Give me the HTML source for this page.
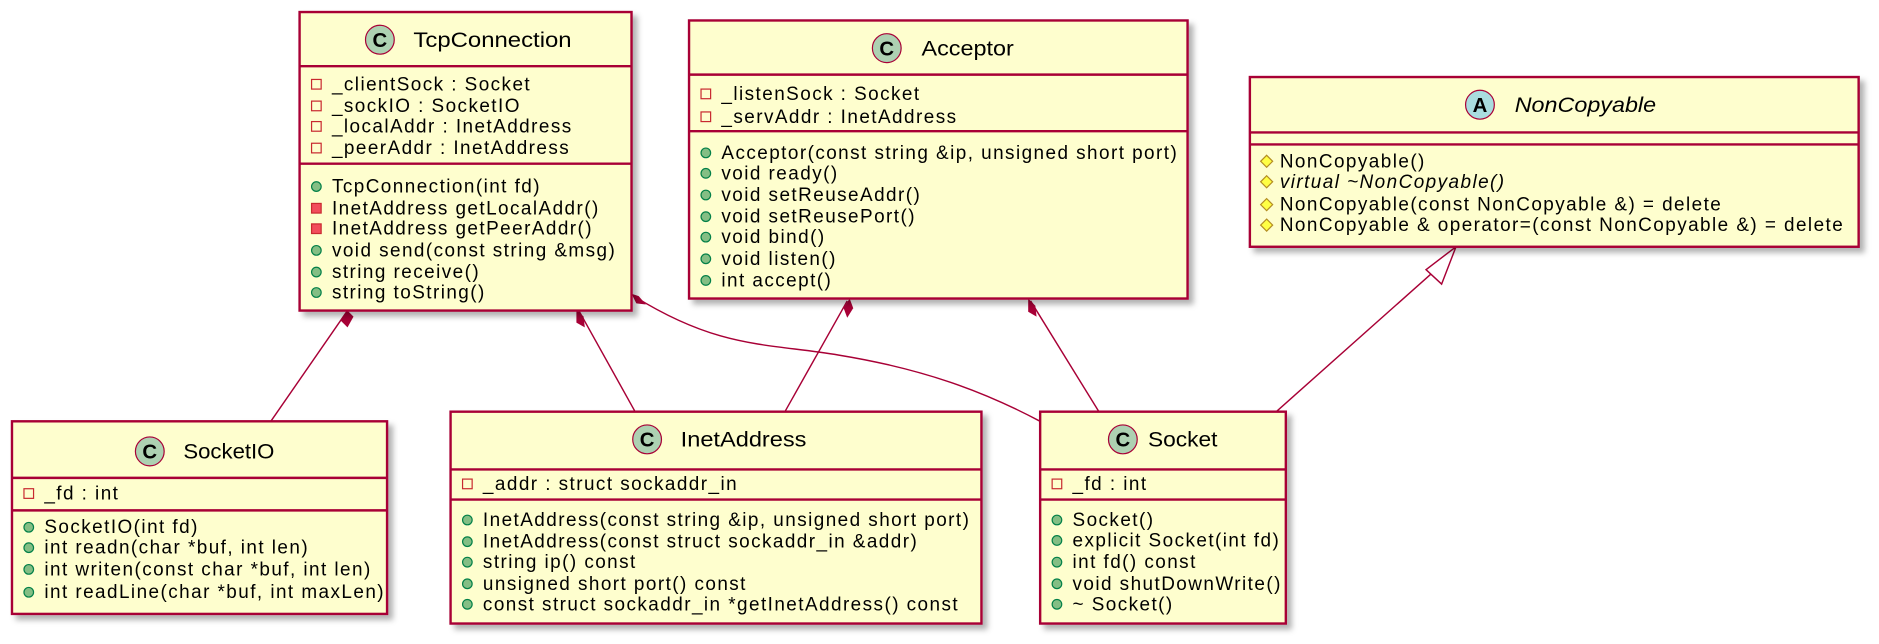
<!DOCTYPE html>
<html><head><meta charset="utf-8"><style>
html,body{margin:0;padding:0;background:#fff;}
svg{display:block;}
text{font-family:"Liberation Sans",sans-serif;font-size:15.8px;letter-spacing:1.2px;fill:#000;}
.t{font-size:18px;letter-spacing:0;}
.ic{font-size:17px;font-weight:bold;letter-spacing:0;}
.box{fill:#FEFECE;stroke:#A80036;stroke-width:2;filter:url(#sh);}
.sep{stroke:#A80036;stroke-width:2;}
.ln{stroke:#A80036;stroke-width:1.2;fill:none;}
</style></head><body>
<svg width="1879" height="644" viewBox="0 0 1568 535" preserveAspectRatio="none" xmlns="http://www.w3.org/2000/svg">
<defs>
<filter id="sh" x="-5%" y="-5%" width="115%" height="120%"><feDropShadow dx="4" dy="4" stdDeviation="2.5" flood-color="#000" flood-opacity="0.3"/></filter>
<g id="pf"><rect x="-4" y="-4" width="8" height="8" fill="none" stroke="#C82930" stroke-width="1"/></g>
<g id="pm"><rect x="-4" y="-4" width="8" height="8" fill="#F24D5C" stroke="#C82930" stroke-width="1"/></g>
<g id="pu"><circle r="4" fill="#84BE84" stroke="#038048" stroke-width="1"/></g>
<g id="pr"><polygon points="0,-5 5,0 0,5 -5,0" fill="#FFFF44" stroke="#B38D22" stroke-width="1"/></g>
</defs>

<!-- connectors -->
<line class="ln" x1="290" y1="258" x2="226" y2="350"/>
<polygon points="290,258 295,263 290,272 284,266" fill="#A80036"/>
<line class="ln" x1="483" y1="258" x2="530" y2="342"/>
<polygon points="481,257 487,263 488,272 481,268" fill="#A80036"/>
<path class="ln" d="M529,246 C600,290 640,285 700,295 C780,308 830,330 868,350"/>
<polygon points="527,244 533,246 539,253 531,252" fill="#A80036"/>
<line class="ln" x1="707" y1="250" x2="655" y2="342"/>
<polygon points="709,248 712,256 707,264 704,256" fill="#A80036"/>
<line class="ln" x1="860" y1="250" x2="917" y2="342"/>
<polygon points="858,248 864,254 865,263 858,259" fill="#A80036"/>
<line class="ln" x1="1205" y1="218" x2="1065" y2="342"/>
<polygon points="1215,205 1190,224 1203,236" fill="#fff" stroke="#A80036" stroke-width="1.2"/>

<!-- TcpConnection -->
<rect class="box" x="250" y="10" width="277" height="248"/>
<line class="sep" x1="250" y1="55" x2="527" y2="55"/>
<line class="sep" x1="250" y1="136" x2="527" y2="136"/>
<circle cx="317" cy="33" r="12" fill="#ADD1B2" stroke="#A80036"/>
<text class="ic" x="317" y="39" text-anchor="middle">C</text>
<text class="t" x="345" y="39" textLength="132" lengthAdjust="spacingAndGlyphs">TcpConnection</text>
<use href="#pf" x="264" y="70"/><text x="277" y="75">_clientSock : Socket</text>
<use href="#pf" x="264" y="88"/><text x="277" y="93">_sockIO : SocketIO</text>
<use href="#pf" x="264" y="105"/><text x="277" y="110">_localAddr : InetAddress</text>
<use href="#pf" x="264" y="123"/><text x="277" y="128">_peerAddr : InetAddress</text>
<use href="#pu" x="264" y="155"/><text x="277" y="160">TcpConnection(int fd)</text>
<use href="#pm" x="264" y="173"/><text x="277" y="178">InetAddress getLocalAddr()</text>
<use href="#pm" x="264" y="190"/><text x="277" y="195">InetAddress getPeerAddr()</text>
<use href="#pu" x="264" y="208"/><text x="277" y="213">void send(const string &amp;msg)</text>
<use href="#pu" x="264" y="226"/><text x="277" y="231">string receive()</text>
<use href="#pu" x="264" y="243"/><text x="277" y="248">string toString()</text>

<!-- Acceptor -->
<rect class="box" x="575" y="17" width="416" height="231"/>
<line class="sep" x1="575" y1="62" x2="991" y2="62"/>
<line class="sep" x1="575" y1="109" x2="991" y2="109"/>
<circle cx="740" cy="40" r="12" fill="#ADD1B2" stroke="#A80036"/>
<text class="ic" x="740" y="46" text-anchor="middle">C</text>
<text class="t" x="769" y="46" textLength="77" lengthAdjust="spacingAndGlyphs">Acceptor</text>
<use href="#pf" x="589" y="78"/><text x="602" y="83">_listenSock : Socket</text>
<use href="#pf" x="589" y="97"/><text x="602" y="102">_servAddr : InetAddress</text>
<use href="#pu" x="589" y="127"/><text x="602" y="132">Acceptor(const string &amp;ip, unsigned short port)</text>
<use href="#pu" x="589" y="144"/><text x="602" y="149">void ready()</text>
<use href="#pu" x="589" y="162"/><text x="602" y="167">void setReuseAddr()</text>
<use href="#pu" x="589" y="180"/><text x="602" y="185">void setReusePort()</text>
<use href="#pu" x="589" y="197"/><text x="602" y="202">void bind()</text>
<use href="#pu" x="589" y="215"/><text x="602" y="220">void listen()</text>
<use href="#pu" x="589" y="233"/><text x="602" y="238">int accept()</text>

<!-- NonCopyable -->
<rect class="box" x="1043" y="64" width="508" height="141"/>
<line class="sep" x1="1043" y1="110" x2="1551" y2="110"/>
<line class="sep" x1="1043" y1="120" x2="1551" y2="120"/>
<circle cx="1235" cy="87" r="12" fill="#A9DCDF" stroke="#A80036"/>
<text class="ic" x="1235" y="93" text-anchor="middle">A</text>
<text class="t" x="1264" y="93" style="font-style:italic" textLength="118" lengthAdjust="spacingAndGlyphs">NonCopyable</text>
<use href="#pr" x="1057" y="134"/><text x="1068" y="139">NonCopyable()</text>
<use href="#pr" x="1057" y="151"/><text x="1068" y="156" style="font-style:italic">virtual ~NonCopyable()</text>
<use href="#pr" x="1057" y="170"/><text x="1068" y="175">NonCopyable(const NonCopyable &amp;) = delete</text>
<use href="#pr" x="1057" y="187"/><text x="1068" y="192">NonCopyable &amp; operator=(const NonCopyable &amp;) = delete</text>

<!-- SocketIO -->
<rect class="box" x="10" y="350" width="313" height="160"/>
<line class="sep" x1="10" y1="397" x2="323" y2="397"/>
<line class="sep" x1="10" y1="424" x2="323" y2="424"/>
<circle cx="125" cy="375" r="12" fill="#ADD1B2" stroke="#A80036"/>
<text class="ic" x="125" y="381" text-anchor="middle">C</text>
<text class="t" x="153" y="381" textLength="76" lengthAdjust="spacingAndGlyphs">SocketIO</text>
<use href="#pf" x="24" y="410"/><text x="37" y="415">_fd : int</text>
<use href="#pu" x="24" y="438"/><text x="37" y="443">SocketIO(int fd)</text>
<use href="#pu" x="24" y="455"/><text x="37" y="460">int readn(char *buf, int len)</text>
<use href="#pu" x="24" y="473"/><text x="37" y="478">int writen(const char *buf, int len)</text>
<use href="#pu" x="24" y="492"/><text x="37" y="497">int readLine(char *buf, int maxLen)</text>

<!-- InetAddress -->
<rect class="box" x="376" y="342" width="443" height="176"/>
<line class="sep" x1="376" y1="390" x2="819" y2="390"/>
<line class="sep" x1="376" y1="415" x2="819" y2="415"/>
<circle cx="540" cy="365" r="12" fill="#ADD1B2" stroke="#A80036"/>
<text class="ic" x="540" y="371" text-anchor="middle">C</text>
<text class="t" x="568" y="371" textLength="105" lengthAdjust="spacingAndGlyphs">InetAddress</text>
<use href="#pf" x="390" y="402"/><text x="403" y="407">_addr : struct sockaddr_in</text>
<use href="#pu" x="390" y="432"/><text x="403" y="437">InetAddress(const string &amp;ip, unsigned short port)</text>
<use href="#pu" x="390" y="450"/><text x="403" y="455">InetAddress(const struct sockaddr_in &amp;addr)</text>
<use href="#pu" x="390" y="467"/><text x="403" y="472">string ip() const</text>
<use href="#pu" x="390" y="485"/><text x="403" y="490">unsigned short port() const</text>
<use href="#pu" x="390" y="502"/><text x="403" y="507">const struct sockaddr_in *getInetAddress() const</text>

<!-- Socket -->
<rect class="box" x="868" y="342" width="205" height="176"/>
<line class="sep" x1="868" y1="390" x2="1073" y2="390"/>
<line class="sep" x1="868" y1="415" x2="1073" y2="415"/>
<circle cx="937" cy="365" r="12" fill="#ADD1B2" stroke="#A80036"/>
<text class="ic" x="937" y="371" text-anchor="middle">C</text>
<text class="t" x="958" y="371" textLength="58" lengthAdjust="spacingAndGlyphs">Socket</text>
<use href="#pf" x="882" y="402"/><text x="895" y="407">_fd : int</text>
<use href="#pu" x="882" y="432"/><text x="895" y="437">Socket()</text>
<use href="#pu" x="882" y="449"/><text x="895" y="454">explicit Socket(int fd)</text>
<use href="#pu" x="882" y="467"/><text x="895" y="472">int fd() const</text>
<use href="#pu" x="882" y="485"/><text x="895" y="490">void shutDownWrite()</text>
<use href="#pu" x="882" y="502"/><text x="895" y="507">~ Socket()</text>
</svg>
</body></html>
